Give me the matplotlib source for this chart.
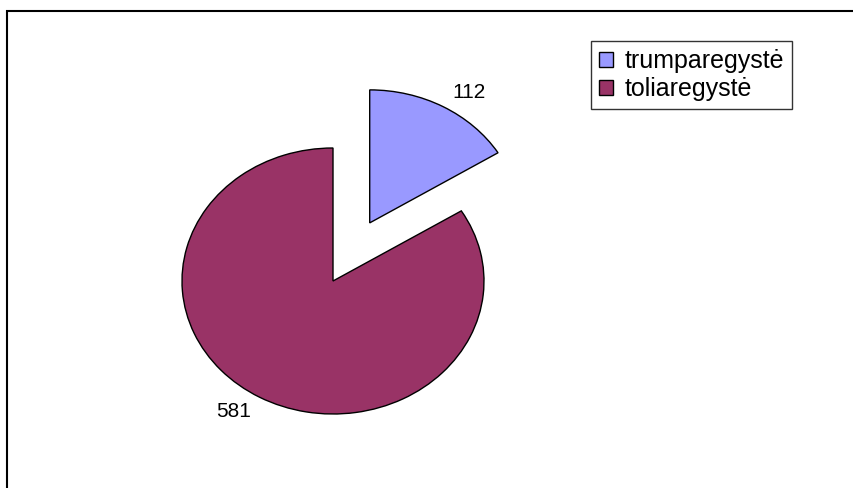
import matplotlib
matplotlib.use("Agg")
import matplotlib.pyplot as plt
from matplotlib.patches import Rectangle

categories = ["trumparegystė", "toliaregystė"]
values = [112, 581]
colors = ["#9999FF", "#993366"]
explode = [0.5, 0.0]

plt.rcParams['font.family'] = ['Liberation Sans', 'DejaVu Sans']

W, H = 854, 488
fig = plt.figure(figsize=(W / 100, H / 100), dpi=100)
ax = fig.add_axes([0, 0, 1, 1])

wedges, texts = ax.pie(values, colors=colors, explode=explode, startangle=90,
                       counterclock=False, labels=[str(v) for v in values],
                       labeldistance=1.12,
                       wedgeprops=dict(edgecolor='black', linewidth=1.0),
                       textprops=dict(fontsize=15, color='black'))
ax.set_aspect('auto')
cx, cy = 333, 281
sx, sy = 151, 133
ax.set_xlim(-cx / sx, (W - cx) / sx)
ax.set_ylim(-(H - cy) / sy, cy / sy)
ax.axis('off')

leg = fig.legend(wedges, categories, loc='upper left',
                 bbox_to_anchor=(591 / W, 1 - 41 / H), borderaxespad=0,
                 fontsize=18, frameon=True, fancybox=False, shadow=False,
                 handlelength=0.55, handleheight=0.55, handletextpad=0.45,
                 borderpad=0.33, labelspacing=0.15)
leg.get_frame().set_edgecolor('black')
leg.get_frame().set_linewidth(1.0)
for h in leg.legend_handles:
    h.set_edgecolor('black')
    h.set_linewidth(1.0)

fig.patches.append(Rectangle((7 / W, -0.2), 1.5, 1.2 - 11 / H, fill=False,
                             edgecolor='black', linewidth=1.5,
                             transform=fig.transFigure, figure=fig))

fig.savefig('out.png', dpi=100)
